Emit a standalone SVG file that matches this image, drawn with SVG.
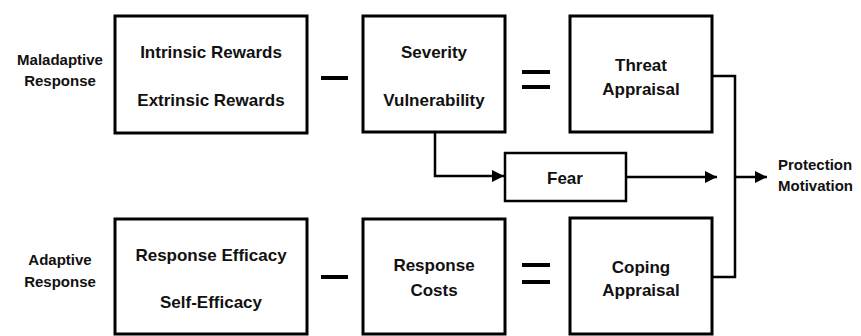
<svg xmlns="http://www.w3.org/2000/svg" width="861" height="336" viewBox="0 0 861 336">
<style>
.box{fill:#fff;stroke:#000;stroke-width:3}
.t{font-family:"Liberation Sans",Arial,sans-serif;font-weight:bold;font-size:17px;fill:#111;text-anchor:middle}
.s{font-family:"Liberation Sans",Arial,sans-serif;font-weight:bold;font-size:15px;fill:#111;text-anchor:middle}
.l{stroke:#000;stroke-width:2.5;fill:none}
.op{stroke:#000;stroke-width:4;fill:none}
</style>
<defs>
<marker id="ah" viewBox="0 0 10 10" refX="10" refY="5" markerWidth="5" markerHeight="5" orient="auto" markerUnits="strokeWidth">
<path d="M0,0 L10,5 L0,10 z" fill="#000"/>
</marker>
</defs>
<rect width="861" height="336" fill="#fff"/>
<g id="label-maladaptive"><text class="s" x="60" y="65">Maladaptive</text><text class="s" x="60" y="86">Response</text></g>
<g id="label-adaptive"><text class="s" x="60" y="265">Adaptive</text><text class="s" x="60" y="287">Response</text></g>
<g id="rewards"><rect class="box" x="115" y="16" width="192" height="117"/><text class="t" x="211" y="58">Intrinsic Rewards</text><text class="t" x="211" y="106">Extrinsic Rewards</text></g>
<g id="severity"><rect class="box" x="363" y="16" width="142" height="116"/><text class="t" x="434" y="58">Severity</text><text class="t" x="434" y="106">Vulnerability</text></g>
<g id="threat"><rect class="box" x="570" y="16" width="142" height="116"/><text class="t" x="641" y="71">Threat</text><text class="t" x="641" y="95">Appraisal</text></g>
<g id="fear"><rect class="box" x="505" y="153" width="121" height="48" style="stroke-width:2.5"/><text class="t" x="565" y="184">Fear</text></g>
<g id="efficacy"><rect class="box" x="115" y="219" width="192" height="115"/><text class="t" x="211" y="261">Response Efficacy</text><text class="t" x="211" y="308">Self-Efficacy</text></g>
<g id="costs"><rect class="box" x="363" y="219" width="142" height="115"/><text class="t" x="434" y="271">Response</text><text class="t" x="434" y="296">Costs</text></g>
<g id="coping"><rect class="box" x="570" y="218" width="142" height="116"/><text class="t" x="641" y="273">Coping</text><text class="t" x="641" y="296">Appraisal</text></g>
<g id="protection"><text class="s" x="778" y="170" style="text-anchor:start">Protection</text><text class="s" x="778" y="191" style="text-anchor:start">Motivation</text></g>
<g id="operators">
<line class="op" x1="321" y1="78" x2="348" y2="78"/>
<line class="op" x1="522" y1="72" x2="550" y2="72"/>
<line class="op" x1="522" y1="87" x2="550" y2="87"/>
<line class="op" x1="321" y1="277" x2="348" y2="277"/>
<line class="op" x1="522" y1="265" x2="550" y2="265"/>
<line class="op" x1="522" y1="282" x2="550" y2="282"/>
</g>
<g id="connectors">
<path class="l" d="M435,132 V176 H504" marker-end="url(#ah)"/>
<path class="l" d="M626,177 H717" marker-end="url(#ah)"/>
<path class="l" d="M712,76 H735 V277 H712"/>
<path class="l" d="M735,177 H767" marker-end="url(#ah)"/>
</g>
</svg>
